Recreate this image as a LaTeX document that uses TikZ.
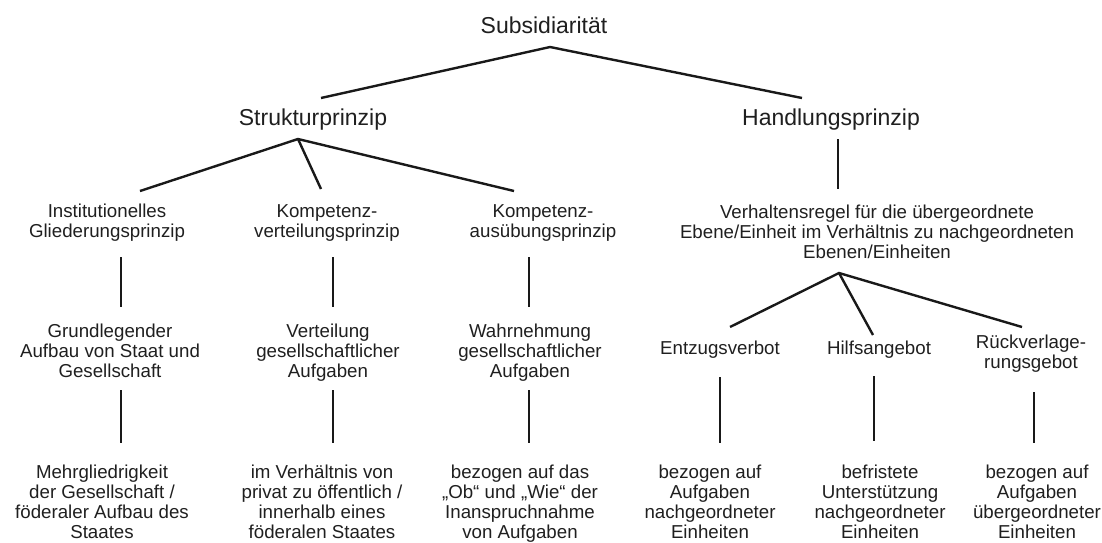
\documentclass[tikz,border=0pt]{standalone}
\usepackage{fontspec}
\setmainfont{Liberation Sans}
\newcommand{\ml}[1]{\begin{tabular}[t]{@{}c@{}}#1\end{tabular}}
\tikzset{
  big/.style={font=\fontsize{23}{27}\selectfont, inner sep=0pt, anchor=base, text=black!88},
  lbl/.style={font=\fontsize{18.7}{20}\selectfont, inner sep=0pt, anchor=base, text=black!88},
  con/.style={line width=2.4pt, draw=black!90}
}
\begin{document}
\begin{tikzpicture}[x=1pt,y=-1pt]
\useasboundingbox (0,0) rectangle (1102,542);
% level 1 and 2
\node[big] (sub) at (544,33) {Subsidiarität};
\node[big] (struk) at (313,125) {Strukturprinzip};
\node[big] (hand) at (831,125) {Handlungsprinzip};
% level 3
\node[lbl] (inst) at (107,217) {\ml{Institutionelles\\Gliederungsprinzip}};
\node[lbl] (kv) at (327,217) {\ml{Kompetenz-\\verteilungsprinzip}};
\node[lbl] (ka) at (543,217) {\ml{Kompetenz-\\ausübungsprinzip}};
\node[lbl] (verh) at (877,218) {\ml{Verhaltensregel für die übergeordnete\\Ebene/Einheit im Verhältnis zu nachgeordneten\\Ebenen/Einheiten}};
% level 4
\node[lbl] (grund) at (110,337) {\ml{Grundlegender\\Aufbau von Staat und\\Gesellschaft}};
\node[lbl] (vert) at (328,337) {\ml{Verteilung\\gesellschaftlicher\\Aufgaben}};
\node[lbl] (wahr) at (530,337) {\ml{Wahrnehmung\\gesellschaftlicher\\Aufgaben}};
\node[lbl] (entz) at (720,354) {Entzugsverbot};
\node[lbl] (hilf) at (879,354) {Hilfsangebot};
\node[lbl] (rueck) at (1031,348) {\ml{Rückverlage-\\rungsgebot}};
% level 5
\node[lbl] (mehr) at (102,478) {\ml{Mehrgliedrigkeit\\der Gesellschaft /\\föderaler Aufbau des\\Staates}};
\node[lbl] (imv) at (322,478) {\ml{im Verhältnis von\\privat zu öffentlich /\\innerhalb eines\\föderalen Staates}};
\node[lbl] (bez1) at (520,478) {\ml{bezogen auf das\\„Ob“ und „Wie“ der\\Inanspruchnahme\\von Aufgaben}};
\node[lbl] (bez2) at (710,478) {\ml{bezogen auf\\Aufgaben\\nachgeordneter\\Einheiten}};
\node[lbl] (befr) at (880,478) {\ml{befristete\\Unterstützung\\nachgeordneter\\Einheiten}};
\node[lbl] (bez3) at (1037,478) {\ml{bezogen auf\\Aufgaben\\übergeordneter\\Einheiten}};
% connector end points
\coordinate (sub-s) at (550,47);
\coordinate (struk-n) at (321,98);
\coordinate (hand-n) at (802,98);
\coordinate (struk-s) at (298,139);
\coordinate (inst-n) at (140,191);
\coordinate (kv-n) at (321,189);
\coordinate (ka-n) at (514,191);
\coordinate (hand-s) at (838,139);
\coordinate (verh-n) at (838,189);
\coordinate (inst-s) at (121,257);
\coordinate (grund-n) at (121,307);
\coordinate (kv-s) at (333,257);
\coordinate (vert-n) at (333,307);
\coordinate (ka-s) at (529,257);
\coordinate (wahr-n) at (529,307);
\coordinate (grund-s) at (121,390);
\coordinate (mehr-n) at (121,443);
\coordinate (vert-s) at (333,390);
\coordinate (imv-n) at (333,443);
\coordinate (wahr-s) at (529,390);
\coordinate (bez1-n) at (529,443);
\coordinate (verh-s) at (839,273);
\coordinate (entz-n) at (730,327);
\coordinate (hilf-n) at (873,335);
\coordinate (rueck-n) at (1022,327);
\coordinate (entz-s) at (720,377);
\coordinate (bez2-n) at (720,443);
\coordinate (hilf-s) at (874,376);
\coordinate (befr-n) at (874,441);
\coordinate (rueck-s) at (1034,392);
\coordinate (bez3-n) at (1034,443);
% connectors
\draw[con] (struk-n) -- (sub-s) -- (hand-n);
\draw[con] (inst-n) -- (struk-s) -- (ka-n);
\draw[con] (struk-s) -- (kv-n);
\draw[con] (hand-s) -- (verh-n);
\draw[con] (inst-s) -- (grund-n);
\draw[con] (kv-s) -- (vert-n);
\draw[con] (ka-s) -- (wahr-n);
\draw[con] (grund-s) -- (mehr-n);
\draw[con] (vert-s) -- (imv-n);
\draw[con] (wahr-s) -- (bez1-n);
\draw[con] (entz-n) -- (verh-s) -- (rueck-n);
\draw[con] (verh-s) -- (hilf-n);
\draw[con] (entz-s) -- (bez2-n);
\draw[con] (hilf-s) -- (befr-n);
\draw[con] (rueck-s) -- (bez3-n);
\end{tikzpicture}
\end{document}
